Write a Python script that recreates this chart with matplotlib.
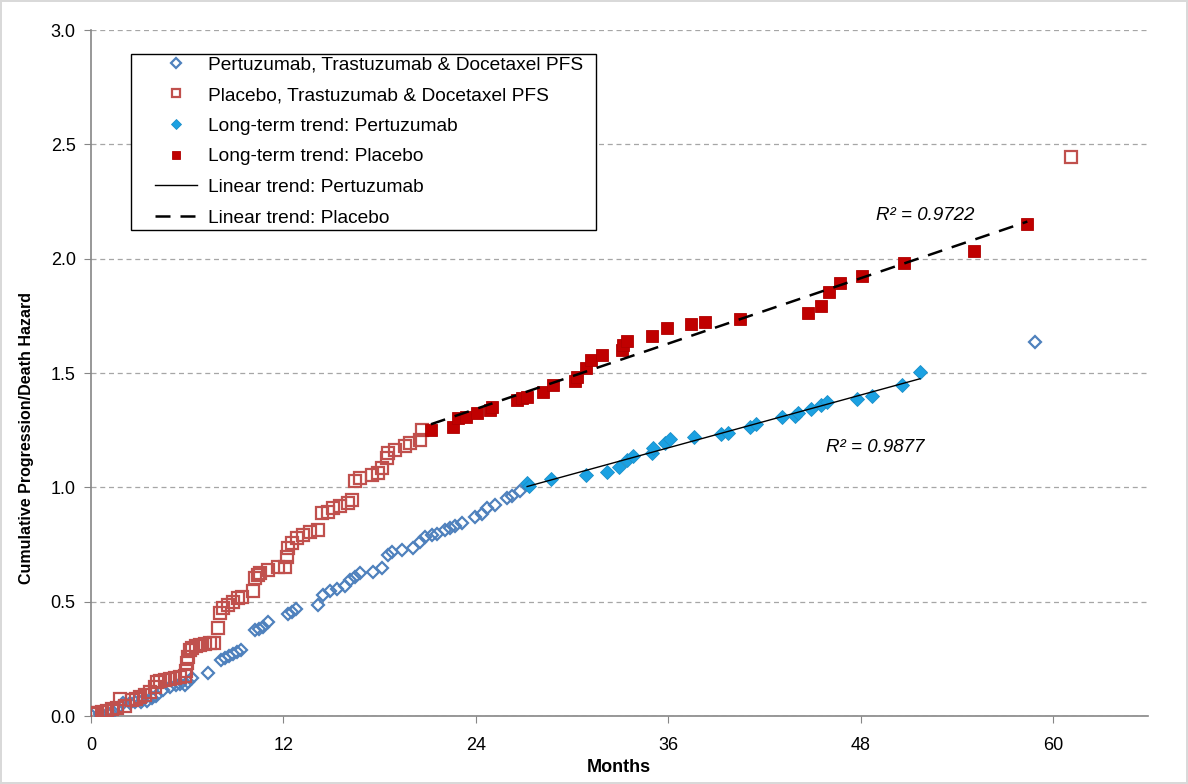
import numpy as np
import matplotlib
matplotlib.use("Agg")
import matplotlib.pyplot as plt
from matplotlib import font_manager
from matplotlib.patches import Rectangle

plt.rcParams['font.family'] = ['Liberation Sans', 'DejaVu Sans']

# Pertuzumab, Trastuzumab & Docetaxel PFS (open diamonds)
pert_months = [0.0, 0.56, 1.06, 1.37, 1.68, 1.99, 2.43, 2.74, 3.12, 3.49, 3.8, 4.05,
               4.49, 4.92, 5.3, 5.55, 5.86, 6.04, 6.29, 7.29, 8.1, 8.35, 8.6, 8.85,
               9.1, 9.35, 10.22, 10.47, 10.72, 11.03, 12.27, 12.52, 12.77, 14.14,
               14.45, 14.89, 15.33, 15.83, 16.14, 16.45, 16.76, 17.57, 18.13, 18.5,
               18.75, 19.38, 20.06, 20.5, 20.81, 21.25, 21.56, 22.06, 22.37, 22.68,
               23.12, 23.93, 24.37, 24.67, 25.17, 25.92, 26.23, 26.73, 58.88]
pert_hazard = [0.004, 0.009, 0.013, 0.017, 0.035, 0.057, 0.057, 0.061, 0.061, 0.066,
               0.079, 0.087, 0.114, 0.127, 0.136, 0.14, 0.136, 0.149, 0.166, 0.188,
               0.245, 0.254, 0.262, 0.271, 0.28, 0.289, 0.376, 0.38, 0.389, 0.411,
               0.446, 0.455, 0.468, 0.485, 0.529, 0.547, 0.556, 0.568, 0.595, 0.608,
               0.625, 0.63, 0.647, 0.704, 0.717, 0.726, 0.735, 0.761, 0.783, 0.791,
               0.796, 0.813, 0.822, 0.83, 0.844, 0.87, 0.883, 0.909, 0.922, 0.953,
               0.962, 0.983, 1.635]

# Placebo, Trastuzumab & Docetaxel PFS (open squares)
plac_months = [0.0, 0.12, 0.37, 0.69, 1.0, 1.31, 1.62, 1.81, 2.12, 2.55, 2.8, 3.05,
               3.36, 3.68, 3.99, 4.1, 4.3, 4.61, 4.92, 5.23, 5.55, 5.86, 5.9, 5.98,
               6.04, 6.17, 6.29, 6.54, 6.79, 7.1, 7.41, 7.66, 7.91, 8.04, 8.22, 8.54,
               8.85, 9.16, 9.41, 10.09, 10.22, 10.4, 10.53, 11.03, 11.65, 12.09, 12.21,
               12.27, 12.52, 12.83, 13.21, 13.64, 14.14, 14.39, 14.77, 15.08, 15.51,
               16.01, 16.26, 16.45, 16.76, 17.51, 17.88, 18.13, 18.44, 18.5, 18.94,
               19.56, 19.88, 20.5, 20.62, 61.12]
plac_hazard = [0.009, 0.013, 0.013, 0.017, 0.022, 0.031, 0.035, 0.074, 0.044, 0.07,
               0.074, 0.083, 0.092, 0.105, 0.127, 0.149, 0.153, 0.157, 0.162, 0.166,
               0.17, 0.175, 0.197, 0.232, 0.258, 0.289, 0.297, 0.306, 0.31, 0.315,
               0.319, 0.319, 0.385, 0.451, 0.472, 0.485, 0.499, 0.516, 0.521, 0.547,
               0.603, 0.616, 0.625, 0.638, 0.651, 0.651, 0.695, 0.735, 0.756, 0.778,
               0.791, 0.804, 0.813, 0.887, 0.892, 0.909, 0.918, 0.931, 0.945, 1.028,
               1.041, 1.054, 1.062, 1.084, 1.128, 1.15, 1.163, 1.18, 1.193, 1.207,
               1.25, 2.444]

# Long-term trend: Pertuzumab (filled diamonds)
pert_lt_months = [27.2, 27.3, 28.7, 30.9, 32.2, 32.9, 33.4, 33.8, 35.0, 35.05, 35.8,
                  36.1, 37.6, 39.3, 39.7, 41.1, 41.5, 43.1, 43.9, 44.1, 44.9, 45.5,
                  45.9, 47.8, 48.7, 50.6, 51.7]
pert_lt_hazard = [1.019, 1.006, 1.036, 1.054, 1.067, 1.089, 1.119, 1.137, 1.15, 1.172,
                  1.194, 1.211, 1.22, 1.233, 1.237, 1.264, 1.277, 1.307, 1.312, 1.325,
                  1.342, 1.36, 1.373, 1.386, 1.399, 1.447, 1.504]

# Long-term trend: Placebo (filled squares)
plac_lt_months = [21.2, 22.6, 22.9, 23.4, 24.1, 24.9, 25.0, 26.6, 26.9, 27.2, 28.2,
                  28.8, 30.2, 30.3, 30.9, 31.2, 31.9, 33.1, 33.15, 33.4, 35.0, 35.9,
                  37.4, 38.3, 40.5, 44.7, 45.5, 46.0, 46.7, 48.1, 50.7, 55.1, 58.4]
plac_lt_hazard = [1.251, 1.264, 1.303, 1.307, 1.325, 1.338, 1.351, 1.382, 1.39, 1.395,
                  1.417, 1.447, 1.465, 1.482, 1.522, 1.557, 1.578, 1.6, 1.622, 1.64,
                  1.662, 1.697, 1.714, 1.723, 1.736, 1.762, 1.793, 1.854, 1.893,
                  1.924, 1.981, 2.033, 2.151]

x_ticks = [0, 12, 24, 36, 48, 60]
y_ticks = [0.0, 0.5, 1.0, 1.5, 2.0, 2.5, 3.0]

# narrow font for the y title if there is one
try:
    font_manager.findfont('Liberation Sans Narrow', fallback_to_default=False)
    ylab_font, ylab_size = 'Liberation Sans Narrow', 13.5
except Exception:
    ylab_font, ylab_size = 'Liberation Sans', 11.5

fig = plt.figure(figsize=(11.88, 7.84), dpi=100)
fig.patch.set_edgecolor('#d9d9d9')
fig.patch.set_linewidth(1.5)
ax = fig.add_axes([0.0766, 0.0867, 0.8894, 0.875])

ax.plot(pert_months, pert_hazard, linestyle='none', marker='D', markersize=6.5,
        markerfacecolor='none', markeredgecolor='#4F81BD', markeredgewidth=1.6,
        label='Pertuzumab, Trastuzumab & Docetaxel PFS', zorder=3)
ax.plot(plac_months, plac_hazard, linestyle='none', marker='s', markersize=8,
        markerfacecolor='none', markeredgecolor='#C0504D', markeredgewidth=1.6,
        label='Placebo, Trastuzumab & Docetaxel PFS', zorder=3)
ax.plot(pert_lt_months, pert_lt_hazard, linestyle='none', marker='D', markersize=7,
        markerfacecolor='#1BA1E2', markeredgecolor='#1B8FC8', markeredgewidth=0.6,
        label='Long-term trend: Pertuzumab', zorder=4)
ax.plot(plac_lt_months, plac_lt_hazard, linestyle='none', marker='s', markersize=8.5,
        markerfacecolor='#C00000', markeredgecolor='#B00000', markeredgewidth=0.6,
        label='Long-term trend: Placebo', zorder=4)

# linear fits
p_fit = np.polyfit(pert_lt_months, pert_lt_hazard, 1)
xp = np.array([min(pert_lt_months), max(pert_lt_months)])
ax.plot(xp, np.polyval(p_fit, xp), color='black', linewidth=1.0,
        label='Linear trend: Pertuzumab', zorder=5)
q_fit = np.polyfit(plac_lt_months, plac_lt_hazard, 1)
xq = np.array([min(plac_lt_months), max(plac_lt_months)])
ax.plot(xq, np.polyval(q_fit, xq), color='black', linewidth=1.8, dashes=(6, 4),
        label='Linear trend: Placebo', zorder=5)

ax.text(52.0, 2.19, 'R² = 0.9722', fontsize=13.5, style='italic', ha='center', va='center')
ax.text(48.9, 1.176, 'R² = 0.9877', fontsize=13.5, style='italic', ha='center', va='center')

ax.set_xlim(0, 65.9)
ax.set_ylim(0, 3.0)
ax.set_xticks(x_ticks)
ax.set_yticks(y_ticks)
ax.set_yticklabels(['%.1f' % v for v in y_ticks])
ax.tick_params(axis='both', labelsize=13, color='#868686', length=5, direction='out')
ax.tick_params(axis='y', pad=6)
ax.tick_params(axis='x', pad=10)
ax.yaxis.grid(True, linestyle=(0, (4, 3)), color='#a6a6a6', linewidth=0.9)
ax.set_axisbelow(True)
for side in ['top', 'right']:
    ax.spines[side].set_visible(False)
for side in ['left', 'bottom']:
    ax.spines[side].set_color('#868686')
    ax.spines[side].set_linewidth(1.2)

ax.set_xlabel('Months', fontsize=13, fontweight='bold', labelpad=4)
ax.set_ylabel('Cumulative Progression/Death Hazard', fontsize=ylab_size, fontweight='bold',
              family=[ylab_font, 'Liberation Sans'])
ax.yaxis.set_label_coords(-0.054, 0.405)

# legend box drawn separately so the handles sit further in from the border
ax.add_patch(Rectangle((131 / 1188, 1 - 230 / 784), 465 / 1188, 176 / 784,
                       transform=fig.transFigure, facecolor='white',
                       edgecolor='black', linewidth=1.0, zorder=6, clip_on=False))
leg = ax.legend(loc='upper left', bbox_to_anchor=(155 / 1188, 1 - 56 / 784),
                bbox_transform=fig.transFigure, borderaxespad=0, borderpad=0,
                fontsize=13.8, frameon=False, labelspacing=0.69, handlelength=2.2,
                handletextpad=0.55, markerscale=0.75)
leg.set_zorder(7)

fig.savefig('out.png', dpi=100)
